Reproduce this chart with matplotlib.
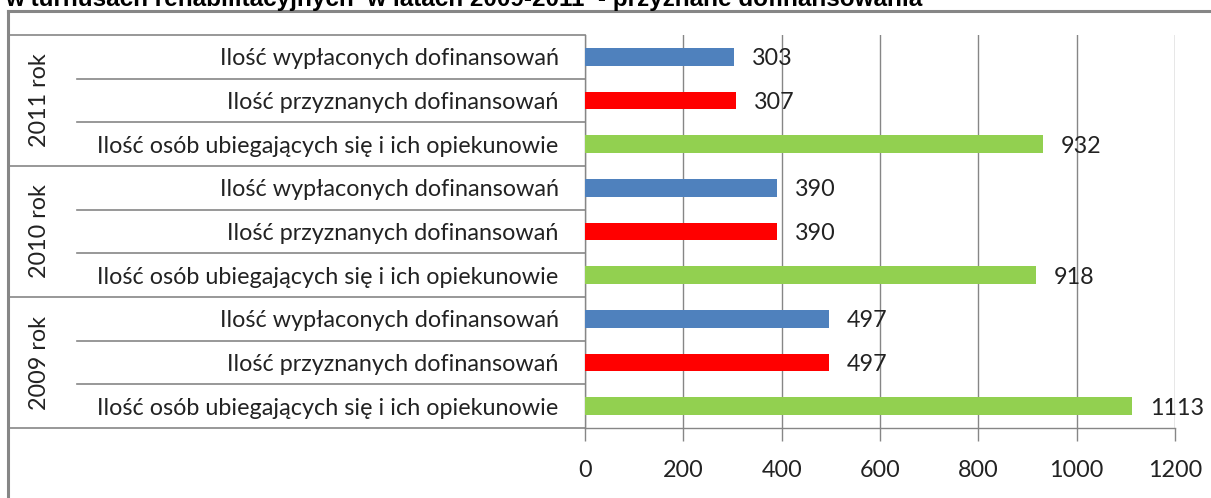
import numpy as np
import matplotlib.pyplot as plt

years = ["2009 rok", "2010 rok", "2011 rok"]
categories = ["Ilość osób ubiegających się i ich opiekunowie",
              "Ilość przyznanych dofinansowań",
              "Ilość wypłaconych dofinansowań"]
applicants = [1113, 918, 932]
granted = [497, 390, 307]
paid = [497, 390, 303]
colors = ["#92D050", "#FF0000", "#4F81BD"]
title = "w turnusach rehabilitacyjnych  w latach 2009-2011  - przyznane dofinansowania"

W, H = 1211, 498
fig = plt.figure(figsize=(W / 100, H / 100), dpi=100)
ax = fig.add_axes([585 / W, 70 / H, 590 / W, 393 / H])

font = "Lato"
grey = "#868686"
fs = 16.8

# bottom-to-top order: 2009 osób, 2009 przyzn, 2009 wypł, 2010 ...
vals, cols, labels = [], [], []
for i in range(len(years)):
    for series, c, cat in zip([applicants, granted, paid], colors, categories):
        vals.append(series[i])
        cols.append(c)
        labels.append(cat)
pos = np.arange(len(vals))

ax.barh(pos, vals, height=0.4, color=cols, zorder=3)
for p, v in zip(pos, vals):
    ax.text(v + 36, p, str(v), va="center_baseline", ha="left", fontsize=fs,
            family=font, color="#222222", zorder=4)

ax.set_xlim(0, 1200)
ax.set_ylim(-0.5, len(vals) - 0.5)
ax.set_xticks(np.arange(0, 1201, 200))
ax.set_xticklabels([str(t) for t in range(0, 1201, 200)], family=font,
                   fontsize=fs, color="#222222")
ax.set_yticks(pos)
ax.set_yticklabels(labels, family=font, fontsize=fs, color="#222222")
ax.tick_params(axis="y", length=0, pad=19)
ax.tick_params(axis="x", length=9, color=grey, pad=14, width=1)
ax.grid(axis="x", color=grey, linewidth=1, zorder=0)
for s in ["top", "right"]:
    ax.spines[s].set_visible(False)
for s in ["left", "bottom"]:
    ax.spines[s].set_color(grey)
    ax.spines[s].set_linewidth(1)

# multi-level category table on the left
x_outer = (8 - 585) / 590
x_inner = (77 - 585) / 590
for k in range(len(vals) + 1):
    y = k - 0.5
    x0 = x_outer if k % 3 == 0 else x_inner
    ax.plot([x0, 0], [y, y], color=grey, linewidth=1.2,
            transform=ax.get_yaxis_transform(), clip_on=False)
for i, yr in enumerate(years):
    ax.text((40 - 585) / 590, 3 * i + 1, yr, rotation=90, ha="center",
            va="center", fontsize=fs, family=font, color="#222222",
            transform=ax.get_yaxis_transform())

# outer chart frame
fig.add_artist(plt.Line2D([8 / W, 8 / W], [0, (H - 11) / H], color=grey,
                          linewidth=2.2))
fig.add_artist(plt.Line2D([8 / W, 1], [(H - 11) / H, (H - 11) / H],
                          color=grey, linewidth=2.2))

fig.text(5 / W, (H - 6) / H, title, fontsize=17.5, fontweight="bold",
         family="Liberation Sans", ha="left", va="baseline")

fig.savefig("out.png", dpi=100)
